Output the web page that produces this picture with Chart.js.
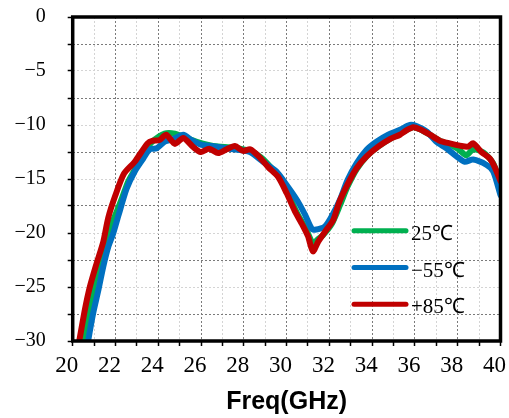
<!DOCTYPE html>
<html>
<head>
<meta charset="utf-8">
<script src="https://cdn.jsdelivr.net/npm/chart.js@4"></script>
<style>
html,body{margin:0;padding:0;background:#fff;}
canvas{display:block;}
</style>
</head>
<body>
<canvas id="c" width="509" height="418"></canvas>
<script>
// ---- data ----
const seriesLabels = ['25℃', '−55℃', '+85℃'];
const seriesColors = ['#00B050', '#0070C0', '#C00000'];

const freq25 = [20.4, 20.57, 20.78, 21.04, 21.36, 21.66, 22.0, 22.3, 22.6, 23.0, 23.35, 23.69, 24.3, 24.78, 25.17, 25.8, 26.34, 26.8, 27.5, 28.28, 28.8, 29.3, 29.7, 30.1, 30.5, 30.9, 31.24, 31.45, 31.7, 32.1, 32.5, 32.85, 33.27, 33.74, 34.28, 34.83, 35.3, 35.92, 36.23, 36.7, 37.16, 37.63, 38.0, 38.4, 38.72, 39.2, 39.66, 40.0];
const db25 = [-31.5, -29.9, -27.1, -24.4, -21.9, -20.0, -18.3, -16.8, -15.2, -13.8, -12.5, -11.6, -10.8, -10.8, -11.1, -11.55, -11.85, -12.0, -12.1, -12.4, -13.0, -14.0, -15.0, -16.5, -18.2, -19.6, -21.0, -20.6, -20.2, -19.2, -17.4, -15.7, -14.1, -12.9, -12.0, -11.3, -10.8, -10.2, -10.4, -10.9, -11.45, -11.8, -12.2, -12.8, -12.25, -12.55, -13.55, -15.5];

const freqM55 = [20.6, 20.73, 20.96, 21.2, 21.43, 21.66, 21.9, 22.15, 22.52, 22.9, 23.3, 23.6, 23.93, 24.3, 24.7, 25.17, 25.56, 26.03, 26.5, 27.0, 27.5, 28.28, 28.9, 29.52, 30.0, 30.47, 30.86, 31.17, 31.32, 31.79, 32.18, 32.5, 32.85, 33.27, 33.74, 34.2, 34.75, 35.3, 35.76, 36.07, 36.54, 37.0, 37.47, 37.94, 38.33, 38.72, 39.35, 39.66, 40.0];
const dbM55 = [-31.5, -29.9, -27.4, -25.3, -23.1, -21.3, -20.0, -18.3, -15.9, -14.3, -13.1, -12.25, -12.15, -11.55, -11.3, -10.9, -11.4, -11.85, -11.95, -12.1, -12.25, -12.5, -13.4, -14.3, -15.55, -16.9, -18.3, -19.6, -19.7, -19.4, -18.2, -16.9, -15.1, -13.55, -12.3, -11.55, -10.9, -10.45, -10.0, -10.1, -10.6, -11.55, -12.15, -12.9, -13.4, -13.2, -13.7, -14.3, -16.5];

const freqP85 = [20.2, 20.57, 20.8, 21.12, 21.43, 21.66, 21.98, 22.4, 22.9, 23.5, 23.75, 24.05, 24.37, 24.78, 25.17, 25.64, 25.98, 26.38, 26.8, 27.2, 27.58, 27.97, 28.3, 28.7, 29.14, 29.6, 30.0, 30.39, 30.7, 31.0, 31.23, 31.48, 31.79, 32.18, 32.45, 32.85, 33.27, 33.74, 34.28, 34.83, 35.3, 35.6, 35.92, 36.23, 36.7, 37.16, 37.63, 38.18, 38.49, 38.72, 39.11, 39.5, 39.73, 40.0];
const dbP85 = [-31.2, -27.1, -25.0, -22.8, -20.8, -18.6, -16.6, -14.5, -13.4, -11.7, -11.45, -11.4, -10.9, -11.75, -11.2, -12.05, -12.5, -12.2, -12.6, -12.25, -11.95, -12.4, -12.25, -12.9, -13.9, -14.8, -16.3, -18.0, -19.1, -20.3, -21.7, -20.8, -19.9, -18.8, -17.2, -15.5, -14.0, -12.9, -12.0, -11.3, -10.9, -10.5, -10.2, -10.4, -10.9, -11.45, -11.7, -11.95, -12.0, -11.7, -12.5, -13.1, -13.9, -15.2];

const xMin = 20, xMax = 40, xStep = 1, xLabelStep = 2;
const yMin = -30, yMax = 0, yStep = 2.5, yLabelStep = 5;
const xTitle = 'Freq(GHz)';

// ---- build ----
const toPts = (fx, fy) => fx.map((f, i) => ({x: f, y: fy[i]}));
const seriesData = [toPts(freq25, db25), toPts(freqM55, dbM55), toPts(freqP85, dbP85)];
const drawOrder = [2, 1, 0]; // red on top

const datasets = seriesData.map((d, i) => ({
  label: seriesLabels[i],
  data: d,
  borderColor: seriesColors[i],
  backgroundColor: seriesColors[i],
  borderWidth: 6,
  pointRadius: 0,
  tension: 0.25,
  borderCapStyle: 'round',
  borderJoinStyle: 'round',
  clip: 0,
  order: drawOrder[i]
}));

const isMult = (v, m) => Math.abs(v / m - Math.round(v / m)) < 1e-6;
const fmt = v => (v < 0 ? '\u2212' + Math.abs(v) : String(v));
const noPad = s => { s.paddingTop = 0; s.paddingBottom = 0; s.paddingLeft = 0; s.paddingRight = 0; };

const framePlugin = {
  id: 'frameLegend',
  afterDatasetsDraw(chart) {
    const {ctx, chartArea: a} = chart;
    ctx.save();
    // frame
    ctx.strokeStyle = '#000';
    ctx.lineWidth = 3.5;
    ctx.strokeRect(a.left, a.top, a.right - a.left, a.bottom - a.top);
    // legend
    const rows = [230.7, 267.5, 304.2];
    ctx.lineCap = 'round';
    ctx.lineWidth = 5;
    ctx.font = '21px "Liberation Serif", serif';
    ctx.textBaseline = 'middle';
    ctx.textAlign = 'left';
    seriesLabels.forEach((lab, i) => {
      ctx.strokeStyle = seriesColors[i];
      ctx.beginPath();
      ctx.moveTo(354, rows[i]);
      ctx.lineTo(406, rows[i]);
      ctx.stroke();
      ctx.fillStyle = '#000';
      ctx.fillText(lab, 411, rows[i] + 3.5);
    });
    ctx.restore();
  }
};

new Chart(document.getElementById('c'), {
  type: 'line',
  data: {datasets},
  options: {
    responsive: false,
    animation: false,
    events: [],
    layout: {padding: {top: 17, right: 8.5, left: 0, bottom: 0}},
    plugins: {legend: {display: false}, tooltip: {enabled: false}},
    scales: {
      x: {
        type: 'linear', min: xMin, max: xMax,
        afterFit: s => { s.height = 77; noPad(s); },
        ticks: {
          stepSize: xStep, autoSkip: false, maxRotation: 0,
          callback: v => isMult(v, xLabelStep) ? String(v) : '',
          font: {family: '"Liberation Serif", serif', size: 23},
          color: '#000', padding: 6, labelOffset: -6
        },
        grid: {
          color: c => isMult(c.tick.value, 2) ? '#7a7a7a' : '#d4d4d4',
          lineWidth: 1, tickLength: 5, tickColor: '#000', tickWidth: 1.5
        },
        border: {display: false, dash: [2, 2]},
        title: {
          display: true, text: xTitle, color: '#000',
          font: {family: '"Liberation Sans", Arial, sans-serif', size: 25, weight: 'bold'},
          padding: {top: 0, bottom: 1}
        }
      },
      y: {
        type: 'linear', min: yMin, max: yMax,
        afterFit: s => { s.width = 72.7; noPad(s); },
        ticks: {
          stepSize: yStep, autoSkip: false,
          callback: v => isMult(v, yLabelStep) ? fmt(v) : '',
          font: {family: '"Liberation Serif", serif', size: 20},
          color: '#000', padding: 22
        },
        grid: {
          color: c => isMult(c.tick.value, 5) ? '#d4d4d4' : '#7a7a7a',
          lineWidth: 1, tickLength: 5, tickColor: '#000', tickWidth: 1.5
        },
        border: {display: false, dash: [2, 2]}
      }
    }
  },
  plugins: [framePlugin]
});
</script>
</body>
</html>
